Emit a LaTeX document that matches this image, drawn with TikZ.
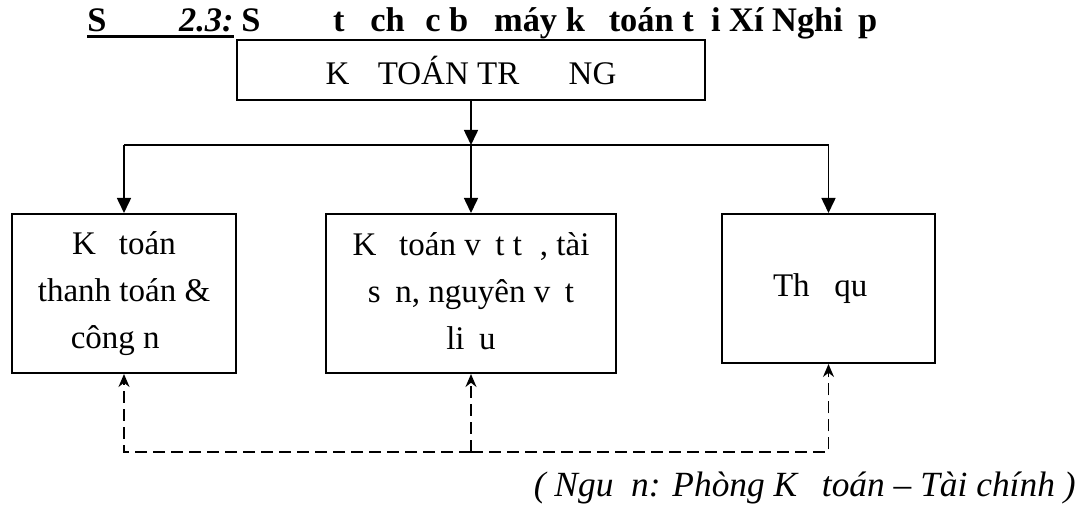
\documentclass[tikz,border=0pt]{standalone}
\usepackage{fontspec}
\setmainfont{Liberation Serif}
\usetikzlibrary{arrows.meta, positioning}
\newcommand{\miss}[1]{\phantom{#1}}

\begin{document}
\begin{tikzpicture}[x=0.5pt, y=-0.5pt,
		heading/.style={inner sep=0pt, font=\fontsize{17.2}{20}\selectfont\bfseries},
		unit/.style={rectangle, draw, line width=1pt, inner sep=0pt, align=center, font=\fontsize{16.5}{23.5}\selectfont},
		link/.style={-{Triangle[length=7.5pt, width=7pt]}, line width=0.8pt},
		feedback/.style={-{Stealth[length=6.5pt, width=5.5pt]}, line width=0.8pt, dash pattern=on 6pt off 3pt}]
		
		\useasboundingbox (0,0) rectangle (1082,506);
		
		% Tieu de
		\node[heading, anchor=base west] (num) at (87,32) {S\miss{ơ đồ} \textit{2.3:}};
		\node[heading, base right=3.5pt of num] (title) {S\miss{ơ đồ} t\miss{ổ} ch\miss{ứ}c b\miss{ộ} máy k\miss{ế} toán t\miss{ạ}i Xí Nghi\miss{ệ}p};
		\draw[line width=1.5pt] ([yshift=-2.5pt]num.base west) -- ([yshift=-2.5pt]num.base east);
		
		% Ke toan truong
		\node[unit, minimum width=234pt, minimum height=30pt] (chief) at (471,70) {K\miss{Ế} TOÁN TR\miss{ƯỞ}NG};
		\coordinate (hub) at (471,145);
		
		% Cac bo phan
		\node[unit, minimum width=112pt, minimum height=79.5pt] (pay) at (124,293.5) {K\miss{ế} toán\\thanh toán \&\\công n\miss{ợ}};
		\node[unit, minimum width=145pt, minimum height=79.5pt] (asset) at (471,293.5) {K\miss{ế} toán v\miss{ậ}t t\miss{ư}, tài\\s\miss{ả}n, nguyên v\miss{ậ}t\\li\miss{ệ}u};
		\node[unit, minimum width=106.5pt, minimum height=74.5pt] (cash) at (828.5,288.5) {Th\miss{ủ} qu\miss{ỹ}};
		\coordinate (fb) at (471,452);
		
		% Arestas
		\draw[link] (chief) -- (chief |- hub);
		\draw[line width=0.8pt] (hub -| pay) -- (hub -| cash);
		\foreach \b in {pay, asset, cash}
			\draw[link] (hub -| \b) -- (\b);
		
		% Phan hoi
		\draw[feedback] (fb) -| (pay);
		\draw[feedback] (fb) -- (asset);
		\draw[feedback] (fb) -| (cash);
		
		% Nguon
		\node[anchor=base east, inner sep=0pt, font=\fontsize{17.7}{20}\selectfont\itshape] (source) at (1076,497) {( Ngu\miss{ồ}n: Phòng K\miss{ế} toán – Tài chính )};
		
	\end{tikzpicture}
\end{document}
